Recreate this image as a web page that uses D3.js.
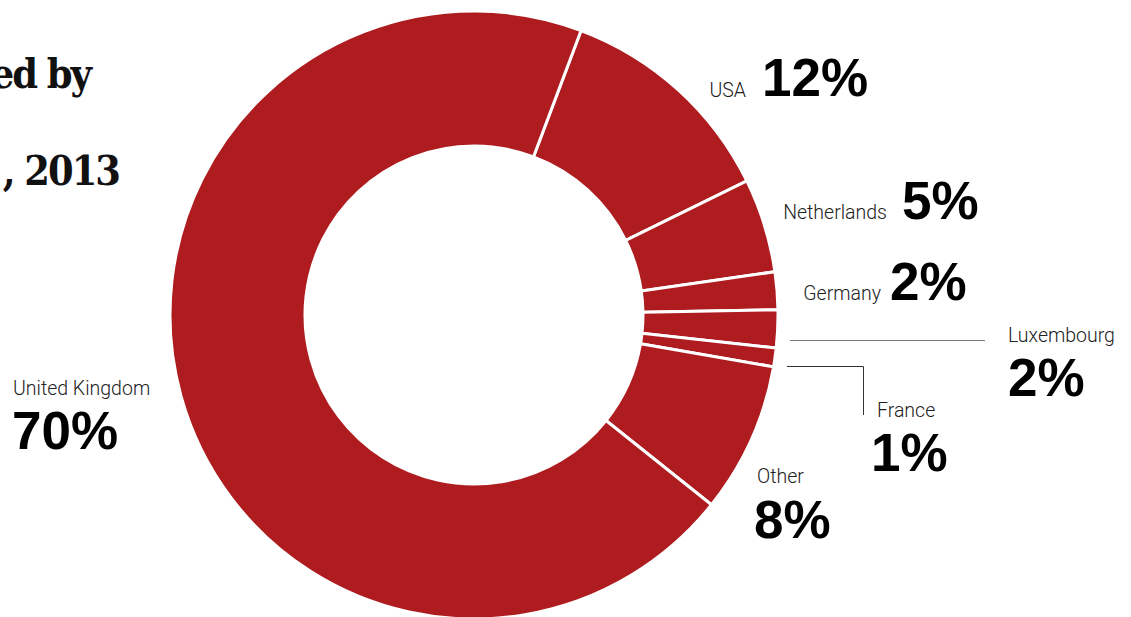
<!DOCTYPE html>
<html>
<head>
<meta charset="utf-8">
<script src="https://cdn.jsdelivr.net/npm/d3@7"></script>
<style>
  html, body { margin: 0; padding: 0; background: #fff; overflow: hidden; }
  #donut-vis { width: 1131px; height: 617px; }
  .name { font-family: Roboto, "Noto Sans", sans-serif; font-weight: 300; font-size: 19.5px; fill: #222; }
  .pct { font-family: "Liberation Sans", Arial, sans-serif; font-weight: 700; font-size: 53px; fill: #000; }
  .title { font-family: "DejaVu Serif Condensed", "DejaVu Serif", serif; font-weight: 700; font-size: 41px; letter-spacing: -2px; fill: #111; }
</style>
</head>
<body>
<div id="donut-vis"></div>
<script>

// data, clockwise starting from the USA slice
let countries = ['USA', 'Netherlands', 'Germany', 'Luxembourg', 'France', 'Other', 'United Kingdom'];
let shares = [12, 5, 2, 2, 1, 8, 70];
let shareLabels = ['12%', '5%', '2%', '2%', '1%', '8%', '70%'];

// partial title lines visible at the left edge
let titleLines = ['ed by', ', 2013'];

let svgContainer = document.getElementById('donut-vis');
let svgWidth = svgContainer.clientWidth;
let svgHeight = svgContainer.clientHeight;

let svg = d3.select('#donut-vis').append('svg')
    .attr('width', svgWidth)
    .attr('height', svgHeight);

const cx = 474, cy = 315;
const outerR = 304, innerR = 169;

const pie = d3.pie()
    .sort(null)
    .value(d => d)
    .startAngle(0.36)
    .endAngle(0.36 + 2 * Math.PI);

const arc = d3.arc()
    .innerRadius(innerR)
    .outerRadius(outerR);

const arcs = pie(shares);

svg.append('g')
    .attr('transform', `translate(${cx},${cy})`)
    .selectAll('path')
    .data(arcs)
    .join('path')
    .attr('d', arc)
    .attr('fill', '#ae1c1f')
    .attr('stroke', '#fff')
    .attr('stroke-width', 3)
    .attr('stroke-linejoin', 'miter');

// title (cut off by the left edge, as in the source)
svg.append('text').attr('class', 'title')
    .attr('x', 90).attr('y', 88)
    .attr('text-anchor', 'end')
    .text(titleLines[0]);
svg.append('text').attr('class', 'title')
    .attr('x', 119).attr('y', 185)
    .attr('text-anchor', 'end')
    .text(titleLines[1]);

// label layout: name position, percent position
const layout = [
    { nx: 746, ny: 97, na: 'end', px: 762, py: 96 },
    { nx: 887, ny: 219, na: 'end', px: 902, py: 219 },
    { nx: 881, ny: 300, na: 'end', px: 890, py: 300 },
    { nx: 1008, ny: 342, na: 'start', px: 1008, py: 396 },
    { nx: 877, ny: 417, na: 'start', px: 871, py: 471 },
    { nx: 757, ny: 483, na: 'start', px: 754, py: 538 },
    { nx: 13, ny: 395, na: 'start', px: 12, py: 449 }
];

countries.forEach((c, i) => {
    const l = layout[i];
    svg.append('text').attr('class', 'name')
        .attr('x', l.nx).attr('y', l.ny)
        .attr('text-anchor', l.na)
        .text(c);
    svg.append('text').attr('class', 'pct')
        .attr('x', l.px).attr('y', l.py)
        .attr('text-anchor', 'start')
        .text(shareLabels[i]);
});

// leader lines for the small slices
svg.append('line')
    .attr('x1', cx + outerR + 12).attr('y1', 340.5)
    .attr('x2', 985).attr('y2', 340.5)
    .attr('stroke', '#777')
    .attr('stroke-width', 1);

svg.append('path')
    .attr('d', `M${cx + outerR + 9},366.5H863.5V415`)
    .attr('fill', 'none')
    .attr('stroke', '#333')
    .attr('stroke-width', 1);

</script>
</body>
</html>
